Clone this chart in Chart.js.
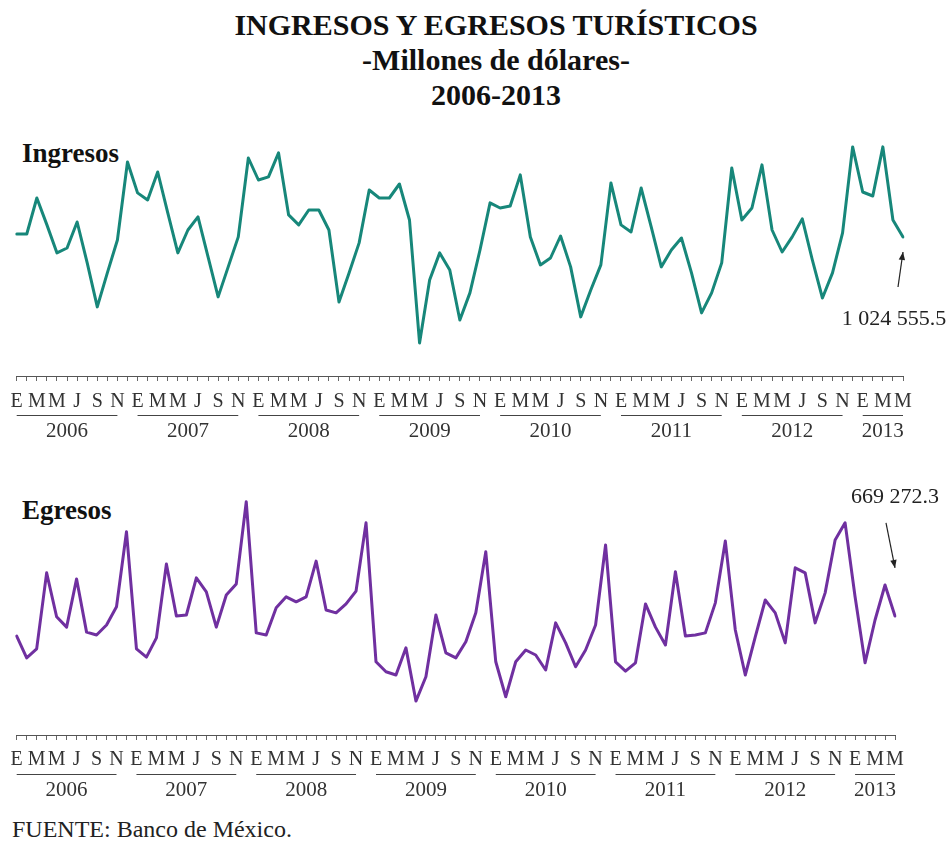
<!DOCTYPE html>
<html>
<head>
<meta charset="utf-8">
<script src="https://cdn.jsdelivr.net/npm/chart.js@4.4.1/dist/chart.umd.min.js"></script>
<style>
  html, body { margin: 0; padding: 0; background: #fff; }
  body { width: 951px; height: 858px; position: relative; overflow: hidden;
         font-family: "Liberation Serif", "Times New Roman", serif; }
  .title { position: absolute; left: 0; width: 992px; text-align: center; font-weight: bold;
           font-size: 30px; line-height: 30px; color: #111; white-space: nowrap; }
  .panel { position: absolute; left: 22px; font-weight: bold; font-size: 27px; line-height: 27px; color: #111; }
  .src { position: absolute; left: 12px; font-size: 24px; line-height: 24px; color: #222; }
  canvas { position: absolute; left: 0; }
</style>
</head>
<body>
<div class="title" style="top:10px">INGRESOS Y EGRESOS TURÍSTICOS</div>
<div class="title" style="top:45px">-Millones de dólares-</div>
<div class="title" style="top:80px">2006-2013</div>
<div class="panel" style="top:140px">Ingresos</div>
<div class="panel" style="top:497px">Egresos</div>
<div class="src" style="top:817px">FUENTE: Banco de México.</div>
<canvas id="cIng" width="951" height="330" style="top:120px"></canvas>
<canvas id="cEgr" width="951" height="330" style="top:480px"></canvas>

<script>
// ---------- DATA ----------
const YEARS = ['2006', '2007', '2008', '2009', '2010', '2011', '2012', '2013'];
const MONTHS = ['Ene', 'Feb', 'Mar', 'Abr', 'May', 'Jun', 'Jul', 'Ago', 'Sep', 'Oct', 'Nov', 'Dic'];
const TICK_LETTERS = ['E', '', 'M', '', 'M', '', 'J', '', 'S', '', 'N', ''];
const N_MONTHS = 89; // enero 2006 - mayo 2013

const INGRESOS = [
  1038, 1038, 1200, 1079, 953, 975, 1092, 908, 710, 863, 1011, 1362,
  1223, 1191, 1317, 1133, 953, 1056, 1115, 935, 755, 890, 1025, 1380,
  1281, 1295, 1403, 1124, 1079, 1146, 1146, 1056, 732, 863, 998, 1236,
  1200, 1200, 1263, 1101, 548, 831, 953, 876, 651, 773, 966, 1178,
  1155, 1164, 1304, 1025, 899, 930, 1029, 890, 665, 786, 899, 1268,
  1079, 1047, 1245, 1070, 890, 966, 1020, 863, 683, 773, 908, 1335,
  1101, 1155, 1349, 1056, 957, 1025, 1106, 921, 750, 863, 1043, 1430,
  1227, 1209, 1430, 1101, 1024.6
];
const EGRESOS = [
  613, 552, 577, 790, 667, 638, 773, 624, 616, 644, 695, 905,
  577, 554, 608, 815, 669, 672, 776, 737, 638, 728, 759, 989,
  622, 616, 692, 723, 709, 723, 823, 686, 678, 703, 739, 930,
  541, 513, 504, 580, 431, 499, 672, 566, 552, 597, 678, 849,
  541, 443, 541, 574, 560, 518, 650, 594, 527, 574, 644, 868,
  541, 515, 538, 703, 638, 588, 793, 613, 616, 622, 706, 879,
  630, 504, 611, 714, 678, 594, 804, 790, 650, 734, 882, 930,
  723, 538, 658, 756, 669.3
];
const LAST_INGRESOS_TEXT = '1 024 555.5';
const LAST_EGRESOS_TEXT = '669 272.3';

// ---------- BUILD ----------
const CATEGORIES = [];
for (let i = 0; i < N_MONTHS; i++) {
  CATEGORIES.push(MONTHS[i % 12] + ' ' + YEARS[Math.floor(i / 12)]);
}

const SERIF = '"Liberation Serif", "Times New Roman", serif';

const yearRowPlugin = {
  id: 'yearRow',
  afterDraw(chart) {
    const xs = chart.scales.x, ctx = chart.ctx;
    const n = chart.data.labels.length;
    const axisY = xs.top;
    ctx.save();
    ctx.strokeStyle = '#444';
    ctx.lineWidth = 1;
    ctx.fillStyle = '#333';
    ctx.font = '21px ' + SERIF;
    ctx.textAlign = 'center';
    ctx.textBaseline = 'middle';
    YEARS.forEach((yr, k) => {
      const s = k * 12;
      if (s >= n) return;
      const e = Math.min(s + 10, n - 1);
      const x1 = xs.getPixelForValue(s), x2 = xs.getPixelForValue(e);
      ctx.beginPath();
      ctx.moveTo(x1, Math.round(axisY + 39) + 0.5);
      ctx.lineTo(x2, Math.round(axisY + 39) + 0.5);
      ctx.stroke();
      ctx.fillText(yr, (x1 + x2) / 2, axisY + 55);
    });
    ctx.restore();
  }
};

function lastValuePlugin(text, textDx, textDy, tail, head) {
  return {
    id: 'lastValue',
    afterDatasetsDraw(chart) {
      const meta = chart.getDatasetMeta(0);
      const pt = meta.data[meta.data.length - 1];
      const ctx = chart.ctx;
      const px = pt.x, py = pt.y;
      ctx.save();
      ctx.fillStyle = '#222';
      ctx.font = '22px ' + SERIF;
      ctx.textAlign = 'center';
      ctx.textBaseline = 'middle';
      ctx.fillText(text, px + textDx, py + textDy);
      const tx = px + tail[0], ty = py + tail[1], hx = px + head[0], hy = py + head[1];
      ctx.strokeStyle = '#222';
      ctx.lineWidth = 1.2;
      ctx.beginPath(); ctx.moveTo(tx, ty); ctx.lineTo(hx, hy); ctx.stroke();
      const ang = Math.atan2(hy - ty, hx - tx);
      const L = 8, W = 3.2;
      ctx.beginPath();
      ctx.moveTo(hx, hy);
      ctx.lineTo(hx - L * Math.cos(ang) + W * Math.sin(ang), hy - L * Math.sin(ang) - W * Math.cos(ang));
      ctx.lineTo(hx - L * Math.cos(ang) - W * Math.sin(ang), hy - L * Math.sin(ang) + W * Math.cos(ang));
      ctx.closePath();
      ctx.fill();
      ctx.restore();
    }
  };
}

function makeChart(id, values, color, yMin, yMax, pad, xHeight, tickPad, annot) {
  return new Chart(document.getElementById(id), {
    type: 'line',
    data: {
      labels: CATEGORIES,
      datasets: [{
        data: values,
        borderColor: color,
        borderWidth: 3,
        pointRadius: 0,
        tension: 0,
        fill: false,
        borderJoinStyle: 'round',
        borderCapStyle: 'round'
      }]
    },
    options: {
      responsive: false,
      devicePixelRatio: 1,
      animation: false,
      layout: { padding: pad },
      plugins: { legend: { display: false }, tooltip: { enabled: false }, title: { display: false } },
      scales: {
        y: { display: false, min: yMin, max: yMax },
        x: {
          type: 'category',
          offset: false,
          afterFit(scale) { scale.height = xHeight; },
          border: { display: true, color: '#555', width: 1 },
          grid: { drawOnChartArea: false, drawTicks: true, tickLength: 5, color: '#666', lineWidth: 1 },
          ticks: {
            autoSkip: false,
            maxRotation: 0,
            minRotation: 0,
            padding: tickPad,
            color: '#333',
            font: { family: SERIF, size: 20 },
            callback: (v, i) => TICK_LETTERS[i % 12]
          }
        }
      }
    },
    plugins: [yearRowPlugin, annot]
  });
}

makeChart('cIng', INGRESOS, '#17877a', 399, 1461,
  { left: 16.7, right: 48, top: 20, bottom: 0 }, 74, 9,
  lastValuePlugin(LAST_INGRESOS_TEXT, -9, 82, [-5, 50], [0, 15]));

makeChart('cEgr', EGRESOS, '#7030a0', 336, 1022,
  { left: 16.7, right: 56, top: 10, bottom: 0 }, 75, 8,
  lastValuePlugin(LAST_EGRESOS_TEXT, 0, -119, [-9, -93], [0, -48]));
</script>
</body>
</html>
